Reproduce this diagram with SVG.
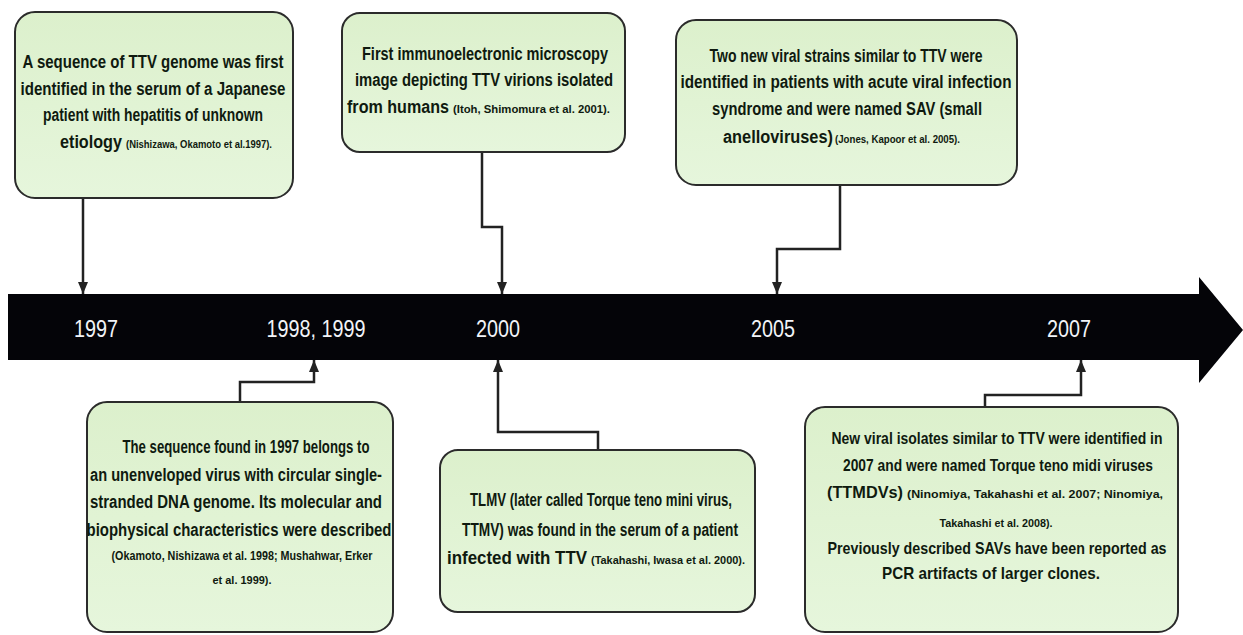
<svg xmlns="http://www.w3.org/2000/svg" width="1243" height="635" viewBox="0 0 1243 635">
<style>
.box{fill:url(#g);stroke:#2b2b2b;stroke-width:2}
.t{font-family:"Liberation Sans Narrow","Arial Narrow","Liberation Sans",sans-serif;font-weight:bold;font-size:18px;fill:#0f1a0f;text-anchor:middle}
.l{text-anchor:start}
.m{font-size:17px}
.s{font-size:11px}
.s12{font-size:12px}
.yr{font-family:"Liberation Sans Narrow","Arial Narrow","Liberation Sans",sans-serif;font-size:24px;fill:#f2f4f8;text-anchor:middle}
.c{fill:none;stroke:#222;stroke-width:2.5;marker-end:url(#ah)}
</style>
<defs>
<linearGradient id="g" x1="0" y1="0" x2="0" y2="1">
<stop offset="0" stop-color="#dcf0cc"/>
<stop offset="1" stop-color="#e6f6dc"/>
</linearGradient>
<marker id="ah" markerUnits="userSpaceOnUse" markerWidth="12" markerHeight="10" viewBox="0 0 12 10" refX="12" refY="5" orient="auto">
<path d="M0,0 L12,5 L0,10 z" fill="#222"/>
</marker>
</defs>
<rect width="1243" height="635" fill="#ffffff"/>
<g id="timeline">
<path d="M8,294 H1199 V277 L1243,330 L1199,383 V360 H8 Z" fill="#040408"/>
<text class="yr" x="96" y="337" textLength="44" lengthAdjust="spacingAndGlyphs">1997</text>
<text class="yr" x="316" y="337" textLength="99" lengthAdjust="spacingAndGlyphs">1998, 1999</text>
<text class="yr" x="498" y="337" textLength="44" lengthAdjust="spacingAndGlyphs">2000</text>
<text class="yr" x="773" y="337" textLength="44" lengthAdjust="spacingAndGlyphs">2005</text>
<text class="yr" x="1069" y="337" textLength="44" lengthAdjust="spacingAndGlyphs">2007</text>
</g>
<g id="connectors">
<path class="c" d="M83,198 V294"/>
<path class="c" d="M482,152 V227 H502 V294"/>
<path class="c" d="M840,185 V249 H777 V294"/>
<path class="c" d="M240,402 V382 H314 V360"/>
<path class="c" d="M598,450 V432 H498 V360"/>
<path class="c" d="M985,407 V395 H1081 V360"/>
</g>
<g id="n1997">
<rect class="box" x="15" y="12" width="278" height="186" rx="20"/>
<text class="t" x="153" y="68" textLength="261" lengthAdjust="spacingAndGlyphs">A sequence of TTV genome was first</text>
<text class="t" x="153" y="95" textLength="265" lengthAdjust="spacingAndGlyphs">identified in the serum of a Japanese</text>
<text class="t" x="153" y="121" textLength="220" lengthAdjust="spacingAndGlyphs">patient with hepatitis of unknown</text>
<text class="t l" x="60" y="148" textLength="62" lengthAdjust="spacingAndGlyphs">etiology</text>
<text class="t l s" x="126" y="148" textLength="146" lengthAdjust="spacingAndGlyphs">(Nishizawa, Okamoto et al.1997).</text>
</g>
<g id="n2000a">
<rect class="box" x="342" y="13" width="283" height="139" rx="18"/>
<text class="t" x="485" y="60" textLength="246" lengthAdjust="spacingAndGlyphs">First immunoelectronic microscopy</text>
<text class="t" x="484" y="86" textLength="258" lengthAdjust="spacingAndGlyphs">image depicting TTV virions isolated</text>
<text class="t l" x="347" y="113" textLength="102" lengthAdjust="spacingAndGlyphs">from humans</text>
<text class="t l s" x="453" y="113" textLength="157" lengthAdjust="spacingAndGlyphs">(Itoh, Shimomura et al. 2001).</text>
</g>
<g id="n2005">
<rect class="box" x="676" y="20" width="341" height="165" rx="20"/>
<text class="t" x="846" y="62" textLength="273" lengthAdjust="spacingAndGlyphs">Two new viral strains similar to TTV were</text>
<text class="t" x="846" y="88" textLength="331" lengthAdjust="spacingAndGlyphs">identified in patients with acute viral infection</text>
<text class="t" x="847" y="115" textLength="270" lengthAdjust="spacingAndGlyphs">syndrome and were named SAV (small</text>
<text class="t l" x="723" y="143" textLength="110" lengthAdjust="spacingAndGlyphs">anelloviruses)</text>
<text class="t l s" x="835" y="143" textLength="125" lengthAdjust="spacingAndGlyphs">(Jones, Kapoor et al. 2005).</text>
</g>
<g id="n1998">
<rect class="box" x="87" y="402" width="306" height="230" rx="20"/>
<text class="t" x="246" y="453" textLength="247" lengthAdjust="spacingAndGlyphs">The sequence found in 1997  belongs to</text>
<text class="t" x="236" y="481" textLength="292" lengthAdjust="spacingAndGlyphs">an unenveloped virus with circular single-</text>
<text class="t" x="236" y="508" textLength="292" lengthAdjust="spacingAndGlyphs">stranded DNA genome. Its molecular and</text>
<text class="t" x="239" y="536" textLength="305" lengthAdjust="spacingAndGlyphs">biophysical characteristics were described</text>
<text class="t s12" x="242" y="560" textLength="261" lengthAdjust="spacingAndGlyphs">(Okamoto, Nishizawa et al. 1998; Mushahwar, Erker</text>
<text class="t s" x="242" y="584" textLength="59" lengthAdjust="spacingAndGlyphs">et al. 1999).</text>
</g>
<g id="n2000b">
<rect class="box" x="440" y="450" width="315" height="162" rx="18"/>
<text class="t" x="601" y="506" textLength="262" lengthAdjust="spacingAndGlyphs">TLMV (later called Torque teno mini virus,</text>
<text class="t" x="600" y="536" textLength="276" lengthAdjust="spacingAndGlyphs">TTMV) was found in the serum of a patient</text>
<text class="t l" x="447" y="564" textLength="140" lengthAdjust="spacingAndGlyphs">infected with TTV</text>
<text class="t l s" x="591" y="564" textLength="154" lengthAdjust="spacingAndGlyphs">(Takahashi, Iwasa et al. 2000).</text>
</g>
<g id="n2007">
<rect class="box" x="805" y="407" width="373" height="225" rx="20"/>
<text class="t m" x="997" y="444" textLength="331" lengthAdjust="spacingAndGlyphs">New viral isolates similar to TTV were identified in</text>
<text class="t m" x="998" y="471" textLength="310" lengthAdjust="spacingAndGlyphs">2007 and were named Torque teno midi viruses</text>
<text class="t l m" x="827" y="498" textLength="76" lengthAdjust="spacingAndGlyphs">(TTMDVs)</text>
<text class="t l s" x="907" y="498" textLength="256" lengthAdjust="spacingAndGlyphs">(Ninomiya, Takahashi et al. 2007; Ninomiya,</text>
<text class="t s" x="996" y="527" textLength="113" lengthAdjust="spacingAndGlyphs">Takahashi et al. 2008).</text>
<text class="t m" x="997" y="554" textLength="339" lengthAdjust="spacingAndGlyphs">Previously described SAVs have been reported as</text>
<text class="t m" x="991" y="579" textLength="218" lengthAdjust="spacingAndGlyphs">PCR artifacts of larger clones.</text>
</g>
</svg>
